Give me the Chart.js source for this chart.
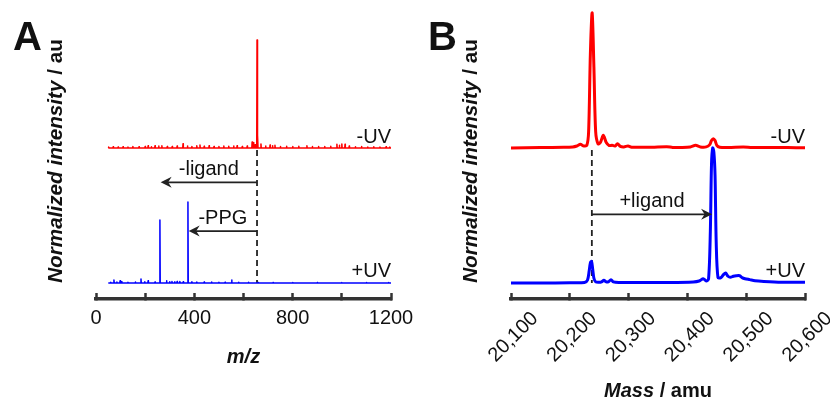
<!DOCTYPE html>
<html><head><meta charset="utf-8">
<script src="https://cdn.jsdelivr.net/npm/chart.js@4/dist/chart.umd.min.js"></script>
<style>
html,body{margin:0;padding:0;background:#fff;}
#wrap{position:relative;width:830px;height:399px;overflow:hidden;}
canvas{position:absolute;top:0;}
#cA{left:0}#cB{left:415px}
</style></head><body>
<div id="wrap"><canvas id="cA" width="415" height="399"></canvas><canvas id="cB" width="415" height="399"></canvas></div>
<script>
// ---------- Panel A : m/z spectra (stick peaks, normalized intensity) ----------
const mzTicksA = [0, 200, 400, 600, 800, 1000, 1200];
const mzLabelsA = ['0', '', '400', '', '800', '', '1200'];
const redMzA  = [52, 70, 90, 110, 130, 150, 175, 200, 212, 225, 240, 255, 268, 290, 310, 330, 354, 372, 390, 410, 423, 440, 460, 480, 500, 520, 540, 560, 574, 595, 615, 635, 641, 647, 655, 658, 671, 690, 708, 718, 728, 750, 775, 800, 825, 858, 880, 905, 930, 955, 980, 990, 1000, 1013, 1030, 1055, 1080, 1105, 1130, 1155, 1180, 1195];
const redIntA = [0.01, 0.012, 0.01, 0.012, 0.01, 0.015, 0.012, 0.014, 0.02, 0.012, 0.02, 0.018, 0.02, 0.014, 0.015, 0.018, 0.04, 0.018, 0.015, 0.02, 0.028, 0.016, 0.02, 0.015, 0.014, 0.018, 0.016, 0.018, 0.022, 0.015, 0.018, 0.056, 0.05, 0.03, 1.0, 0.12, 0.038, 0.018, 0.028, 0.022, 0.025, 0.014, 0.016, 0.014, 0.016, 0.02, 0.014, 0.015, 0.014, 0.016, 0.035, 0.025, 0.038, 0.035, 0.018, 0.012, 0.014, 0.01, 0.012, 0.01, 0.012, 0.01];
const blueMzA  = [60, 73, 85, 98, 105, 130, 160, 183, 198, 212, 240, 260, 287, 300, 309, 320, 330, 341, 355, 374, 390, 410, 440, 470, 500, 525, 552, 580, 620, 660, 720, 800, 900, 1000, 1100, 1190];
const blueIntA = [0.008, 0.028, 0.01, 0.02, 0.015, 0.008, 0.01, 0.038, 0.012, 0.02, 0.01, 0.583, 0.02, 0.012, 0.015, 0.012, 0.014, 0.014, 0.012, 0.75, 0.012, 0.01, 0.01, 0.01, 0.008, 0.008, 0.028, 0.006, 0.006, 0.005, 0.004, 0.004, 0.004, 0.004, 0.004, 0.004];

// ---------- Panel B : deconvoluted mass spectra (profile) ----------
const massTicksB = [20100, 20200, 20300, 20400, 20500, 20600];
const massLabelsB = ['20,100', '20,200', '20,300', '20,400', '20,500', '20,600'];
const redMassB = [20100, 20150, 20190, 20205, 20212, 20218, 20224, 20229, 20232, 20235, 20238, 20241, 20244, 20248, 20252, 20257, 20262, 20267, 20272, 20277, 20281, 20286, 20292, 20299, 20305, 20320, 20340, 20365, 20375, 20390, 20405, 20414, 20422, 20432, 20438, 20441, 20444, 20447, 20450, 20455, 20470, 20495, 20510, 20540, 20570, 20600];
const redIntB  = [0, 0.003, 0.005, 0.008, 0.015, 0.027, 0.015, 0.02, 0.12, 0.7, 1.0, 0.6, 0.12, 0.03, 0.04, 0.094, 0.04, 0.018, 0.02, 0.015, 0.032, 0.012, 0.008, 0.015, 0.006, 0.005, 0.006, 0.01, 0.004, 0.004, 0.008, 0.02, 0.008, 0.008, 0.025, 0.055, 0.069, 0.055, 0.02, 0.006, 0.004, 0.008, 0.004, 0.004, 0.003, 0.002];
const blueMassB = [20100, 20150, 20200, 20225, 20230, 20233, 20235, 20237, 20239, 20241, 20244, 20250, 20254, 20258, 20262, 20266, 20270, 20274, 20285, 20320, 20370, 20410, 20420, 20427, 20432, 20436, 20439, 20441, 20443, 20445, 20447, 20449, 20452, 20457, 20461, 20465, 20469, 20473, 20478, 20483, 20489, 20493, 20498, 20506, 20515, 20530, 20560, 20600];
const blueIntB  = [0, 0, 0.002, 0.004, 0.02, 0.09, 0.15, 0.16, 0.1, 0.035, 0.008, 0.005, 0.008, 0.02, 0.008, 0.01, 0.025, 0.008, 0.004, 0.004, 0.004, 0.008, 0.015, 0.032, 0.015, 0.03, 0.38, 0.88, 1.0, 0.97, 0.8, 0.3, 0.04, 0.04, 0.06, 0.074, 0.05, 0.042, 0.05, 0.054, 0.054, 0.04, 0.032, 0.025, 0.017, 0.012, 0.006, 0.005];

// ---------- build datasets ----------
const FONT = "'Liberation Sans', Arial, Helvetica, sans-serif";
function sticks(mz, inten, offset, start, end) {
  const pts = [{x: start, y: offset}];
  for (let i = 0; i < mz.length; i++) {
    pts.push({x: mz[i] - 1.2, y: offset});
    pts.push({x: mz[i], y: offset + inten[i]});
    pts.push({x: mz[i] + 1.2, y: offset});
  }
  pts.push({x: end, y: offset});
  return pts;
}
function profile(m, inten, offset) { return m.map((v, i) => ({x: v, y: offset + inten[i]})); }

function drawArrow(ctx, x1, x2, y) {
  const dir = Math.sign(x2 - x1);
  ctx.save();
  ctx.strokeStyle = '#222'; ctx.fillStyle = '#222'; ctx.lineWidth = 1.8;
  ctx.beginPath(); ctx.moveTo(x1, y); ctx.lineTo(x2 - dir * 6, y); ctx.stroke();
  ctx.beginPath(); ctx.moveTo(x2, y); ctx.lineTo(x2 - dir * 11, y - 5.5); ctx.lineTo(x2 - dir * 7.5, y); ctx.lineTo(x2 - dir * 11, y + 5.5); ctx.closePath(); ctx.fill();
  ctx.restore();
}
function drawText(ctx, txt, x, y, align, font) {
  ctx.save(); ctx.fillStyle = '#111'; ctx.font = font; ctx.textAlign = align; ctx.textBaseline = 'alphabetic';
  ctx.fillText(txt, x, y); ctx.restore();
}
function drawMixed(ctx, parts, cx, cy, rot) {
  ctx.save(); ctx.translate(cx, cy); ctx.rotate(rot); ctx.fillStyle = '#111'; ctx.textBaseline = 'middle'; ctx.textAlign = 'left';
  let total = 0; parts.forEach(p => { ctx.font = p.font; total += ctx.measureText(p.t).width; });
  let x = -total / 2;
  parts.forEach(p => { ctx.font = p.font; ctx.fillText(p.t, x, 0); x += ctx.measureText(p.t).width; });
  ctx.restore();
}
const BI = "italic bold 20px " + FONT, B = "bold 20px " + FONT, N = "20px " + FONT;
const BIY = "italic bold 20.7px " + FONT, BY = "bold 20.7px " + FONT;

function makePanel(canvas, cfg) {
  const annot = {
    id: 'annot' + cfg.letter,
    beforeDatasetsDraw(chart) {
      const ctx = chart.ctx, xs = chart.scales.x, ys = chart.scales.y;
      const px = xs.getPixelForValue(cfg.dashX);
      ctx.save(); ctx.strokeStyle = '#222'; ctx.lineWidth = 1.8; ctx.setLineDash([6, 4]);
      ctx.beginPath(); ctx.moveTo(px, ys.getPixelForValue(cfg.redOffset) + 2); ctx.lineTo(px, ys.getPixelForValue(0)); ctx.stroke();
      ctx.restore();
    },
    afterDraw(chart) {
      const ctx = chart.ctx, xs = chart.scales.x, ys = chart.scales.y, ca = chart.chartArea;
      cfg.arrows.forEach(a => {
        const x1 = xs.getPixelForValue(cfg.dashX), x2 = xs.getPixelForValue(a.to), y = ys.getPixelForValue(a.y);
        drawArrow(ctx, x1, x2, y);
        drawText(ctx, a.text, (x1 + x2) / 2, y - 7, 'center', N);
      });
      drawText(ctx, '-UV', ca.right, ys.getPixelForValue(cfg.redOffset) - 5, 'right', N);
      drawText(ctx, '+UV', ca.right, ys.getPixelForValue(0) - 6, 'right', N);
      drawText(ctx, cfg.letter, 13, 50, 'left', "bold 40px " + FONT);
      drawMixed(ctx, [{t: 'Normalized intensity', font: BIY}, {t: ' / au', font: BY}], 56, 161, -Math.PI / 2);
      drawMixed(ctx, cfg.xTitle, (ca.left + ca.right) / 2, cfg.xTitleY, 0);
    }
  };
  return new Chart(canvas, {
    type: 'line',
    data: {datasets: [
      {label: '-UV', data: cfg.red, borderColor: '#ff0000', borderWidth: cfg.lw, pointRadius: 0, borderJoinStyle: 'round', tension: cfg.tension, fill: false},
      {label: '+UV', data: cfg.blue, borderColor: '#0000ff', borderWidth: cfg.lw, pointRadius: 0, borderJoinStyle: 'round', tension: cfg.tension, fill: false}
    ]},
    options: {
      responsive: false, animation: false, devicePixelRatio: 1, events: [],
      clip: false,
      layout: {padding: {left: 96, right: cfg.padRight, top: 10, bottom: 0}},
      plugins: {legend: {display: false}, tooltip: {enabled: false}},
      scales: {
        x: {
          type: 'linear', min: cfg.ticks[0], max: cfg.ticks[cfg.ticks.length - 1],
          afterBuildTicks: s => { s.ticks = cfg.ticks.map(v => ({value: v})); },
          afterFit: s => { s.height = 100; s.paddingLeft = 0; s.paddingRight = 0; },
          ticks: {autoSkip: false, minRotation: cfg.rot, maxRotation: cfg.rot, padding: cfg.tickPad, labelOffset: cfg.labelOffset,
            color: '#111', font: {family: FONT, size: 20}, callback: (v, i) => cfg.labels[i]},
          grid: {drawOnChartArea: false, drawTicks: true, tickLength: -6, tickColor: '#333', tickWidth: 2.5},
          border: {display: true, color: '#333', width: 3.5}
        },
        y: {display: false, min: cfg.ymin, max: cfg.ymax}
      }
    },
    plugins: [annot]
  });
}

makePanel(document.getElementById('cA'), {
  letter: 'A', ticks: mzTicksA, labels: mzLabelsA, rot: 0, tickPad: 13, labelOffset: 0, padRight: 24,
  lw: 1.5, tension: 0, ymin: -0.148, ymax: 2.528, redOffset: 1.25,
  red: sticks(redMzA, redIntA, 1.25, 50, 1200), blue: sticks(blueMzA, blueIntA, 0, 50, 1200),
  dashX: 655,
  arrows: [{to: 263, y: 0.932, text: '-ligand'}, {to: 377, y: 0.481, text: '-PPG'}],
  xTitle: [{t: 'm/z', font: BI}], xTitleY: 357
});
makePanel(document.getElementById('cB'), {
  letter: 'B', ticks: massTicksB, labels: massLabelsB, rot: 45, tickPad: 14, labelOffset: 24, padRight: 25,
  lw: 3, tension: 0.3, ymin: -0.1185, ymax: 2.022, redOffset: 1.0,
  red: profile(redMassB, redIntB, 1.0), blue: profile(blueMassB, blueIntB, 0),
  dashX: 20237.5,
  arrows: [{to: 20442, y: 0.509, text: '+ligand'}],
  xTitle: [{t: 'Mass', font: BI}, {t: ' / amu', font: B}], xTitleY: 391
});
</script>
</body></html>
